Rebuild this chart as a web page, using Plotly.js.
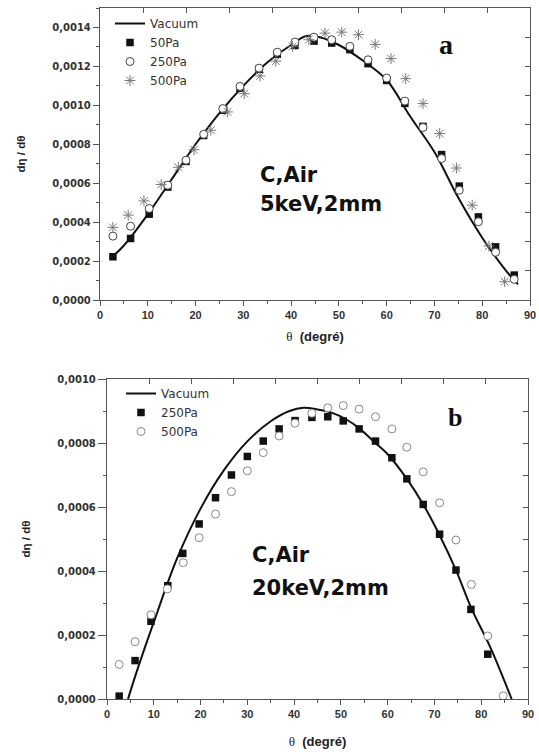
<!DOCTYPE html>
<html>
<head>
<meta charset="utf-8">
<script src="https://cdn.plot.ly/plotly-3.0.1.min.js"></script>
<style>html,body{margin:0;padding:0;background:#fff;}#chart{width:539px;height:754px;}</style>
</head>
<body>
<div id="chart"></div>
<script>
// ---------- Panel a : C, Air, 5 keV, 2 mm ----------
var vacA_x = [2.5, 5, 10, 15, 20, 25, 30, 35, 40, 43, 46, 50, 55, 60, 65, 70, 75, 80, 85, 87.5];
var vacA_y = [0.00022, 0.00028, 0.00044, 0.00062, 0.00080, 0.00096, 0.00110, 0.00122, 0.00131, 0.001355, 0.00135, 0.00131, 0.00123, 0.00113, 0.00094, 0.00076, 0.000525, 0.00032, 0.00015, 0.00008];

var thetaA = [2.7, 6.4, 10.3, 14.2, 18.0, 21.7, 25.7, 29.3, 33.3, 37.1, 40.8, 44.8, 48.5, 52.3, 56.1, 60.0, 63.8, 67.6, 71.5, 75.2, 79.2, 82.8, 86.7];
var a50  = [0.000222, 0.000316, 0.000441, 0.000580, 0.000712, 0.000845, 0.000975, 0.001088, 0.001185, 0.001262, 0.001308, 0.001330, 0.001320, 0.001286, 0.001214, 0.001128, 0.001010, 0.000892, 0.000747, 0.000585, 0.000427, 0.000273, 0.000128];
var a250 = [0.000328, 0.000379, 0.000470, 0.000590, 0.000718, 0.000851, 0.000983, 0.001097, 0.001191, 0.001273, 0.001325, 0.001350, 0.001337, 0.001303, 0.001234, 0.001140, 0.001022, 0.000886, 0.000727, 0.000564, 0.000402, 0.000245, 0.000106];

var thetaA500 = [2.7, 5.9, 9.2, 12.8, 16.4, 19.7, 23.2, 26.7, 30.2, 33.5, 36.8, 40.3, 43.7, 47.1, 50.6, 54.1, 57.6, 60.9, 64.0, 67.6, 71.1, 74.6, 77.9, 81.4, 84.7];
var a500 = [0.000373, 0.000436, 0.000509, 0.000593, 0.000682, 0.000772, 0.000872, 0.000966, 0.001060, 0.001151, 0.001227, 0.001303, 0.001337, 0.001371, 0.001376, 0.001363, 0.001313, 0.001240, 0.001137, 0.001009, 0.000855, 0.000678, 0.000487, 0.000277, 0.000094];

// ---------- Panel b : C, Air, 20 keV, 2 mm ----------
var vacB_x = [4.5, 6, 10, 15, 20, 25, 30, 35, 39, 42, 45, 48, 51, 54, 57, 60, 64, 67.6, 71, 74.6, 78, 82, 86.5];
var vacB_y = [0, 0.00007, 0.00024, 0.00044, 0.000595, 0.000715, 0.000805, 0.000868, 0.0009, 0.00091, 0.000905, 0.000895, 0.000875, 0.000845, 0.000805, 0.000765, 0.00069, 0.000608, 0.000515, 0.000403, 0.00028, 0.00016, 0];

var thetaB250 = [2.6, 6.0, 9.4, 13.0, 16.2, 19.7, 23.2, 26.6, 30.0, 33.4, 36.8, 40.2, 43.8, 47.2, 50.5, 53.9, 57.4, 60.9, 64.1, 67.6, 71.1, 74.6, 77.8, 81.4];
var b250 = [0.000009, 0.000120, 0.000243, 0.000354, 0.000455, 0.000547, 0.000629, 0.000700, 0.000758, 0.000806, 0.000844, 0.000870, 0.000880, 0.000882, 0.000869, 0.000844, 0.000806, 0.000754, 0.000688, 0.000608, 0.000515, 0.000403, 0.000280, 0.000140];

var thetaB500 = [2.6, 6.0, 9.4, 12.9, 16.3, 19.7, 23.2, 26.6, 30.0, 33.4, 36.8, 40.2, 43.8, 47.2, 50.5, 53.9, 57.4, 60.9, 64.1, 67.6, 71.1, 74.6, 77.9, 81.4, 84.7];
var b500 = [0.000108, 0.000179, 0.000263, 0.000344, 0.000426, 0.000504, 0.000578, 0.000648, 0.000713, 0.000770, 0.000822, 0.000862, 0.000893, 0.000910, 0.000917, 0.000906, 0.000882, 0.000844, 0.000787, 0.000710, 0.000613, 0.000497, 0.000358, 0.000197, 0.000010];

var SANS = 'Liberation Sans, Arial, sans-serif';
var WIDE = 'DejaVu Sans, Verdana, sans-serif';
var SERIF = 'Liberation Serif, Times New Roman, serif';
var W = 539, H = 754;

var traces = [
  {x: vacA_x, y: vacA_y, mode: 'lines', name: 'Vacuum', line: {color: '#111', width: 2, shape: 'spline'}, xaxis: 'x', yaxis: 'y', legend: 'legend'},
  {x: thetaA, y: a50, mode: 'markers', name: '50Pa', marker: {symbol: 'square', size: 7.5, color: '#111'}, xaxis: 'x', yaxis: 'y', legend: 'legend'},
  {x: thetaA, y: a250, mode: 'markers', name: '250Pa', marker: {symbol: 'circle', size: 8, color: '#fff', line: {color: '#444', width: 1}}, xaxis: 'x', yaxis: 'y', legend: 'legend'},
  {x: thetaA500, y: a500, mode: 'markers', name: '500Pa', marker: {symbol: 'asterisk-open', size: 9, color: '#777', line: {color: '#777', width: 1}}, xaxis: 'x', yaxis: 'y', legend: 'legend'},
  {x: [], y: [], xaxis: 'x3', yaxis: 'y3', showlegend: false, mode: 'markers'},

  {x: vacB_x, y: vacB_y, mode: 'lines', name: 'Vacuum', line: {color: '#111', width: 2, shape: 'spline'}, xaxis: 'x2', yaxis: 'y2', legend: 'legend2'},
  {x: thetaB250, y: b250, mode: 'markers', name: '250Pa', marker: {symbol: 'square', size: 7.5, color: '#111'}, xaxis: 'x2', yaxis: 'y2', legend: 'legend2'},
  {x: thetaB500, y: b500, mode: 'markers', name: '500Pa', marker: {symbol: 'circle', size: 8, color: '#fff', line: {color: '#888', width: 1}}, xaxis: 'x2', yaxis: 'y2', legend: 'legend2'},
  {x: [], y: [], xaxis: 'x4', yaxis: 'y4', showlegend: false, mode: 'markers'}
];

var lineCol = '#555';
function xMain(dom, anchor, standoff) {
  return {
    domain: dom, anchor: anchor, range: [0, 90], dtick: 10, tick0: 0,
    ticks: 'outside', ticklen: 5, tickwidth: 1, tickcolor: lineCol,
    minor: {dtick: 5, ticks: 'outside', ticklen: 3, tickcolor: lineCol},
    showline: true, linecolor: lineCol, linewidth: 1.2, mirror: true,
    showgrid: false, zeroline: false, fixedrange: true,
    tickfont: {family: SANS, size: 11, color: '#333', weight: 'bold'},
    title: {text: '<span style="font-family:' + SERIF + '">θ</span>  <b>(degré)</b>', font: {family: SANS, size: 13, color: '#222'}, standoff: standoff}
  };
}
function yMain(dom, anchor, top, ticklen) {
  return {
    domain: dom, anchor: anchor, range: [0, top], dtick: 0.0002, tick0: 0, tickformat: '.4f',
    ticks: 'outside', ticklen: ticklen, tickwidth: 1, tickcolor: lineCol,
    minor: {dtick: 0.0001, ticks: 'outside', ticklen: 3, tickcolor: lineCol},
    showline: true, linecolor: lineCol, linewidth: 1.2, mirror: true,
    showgrid: false, zeroline: false, fixedrange: true,
    tickfont: {family: WIDE, size: 10, color: '#333', weight: 'bold'},
    title: {text: 'dη / dθ', font: {family: SANS, size: 11.5, color: '#222', weight: 'bold'}, standoff: 24}
  };
}
function xTop(over, anchor) {
  return {overlaying: over, anchor: anchor, side: 'top', range: [0, 90], dtick: 9, tick0: 0,
    ticks: 'inside', ticklen: 5, tickcolor: lineCol, showticklabels: false, showline: false,
    showgrid: false, zeroline: false, fixedrange: true};
}
function yRight(over, anchor, top, dt) {
  return {overlaying: over, anchor: anchor, side: 'right', range: [0, top], dtick: dt, tick0: 0,
    ticks: 'inside', ticklen: 5, tickcolor: lineCol, showticklabels: false, showline: false,
    showgrid: false, zeroline: false, fixedrange: true};
}

var domXa = [100 / W, 530 / W], domYa = [(H - 300) / H, (H - 8) / H];
var domXb = [107 / W, 528 / W], domYb = [(H - 699) / H, (H - 379) / H];

var legFont = {family: WIDE, size: 12, color: '#333'};
var annFont = {family: WIDE, size: 21, color: '#111', weight: 'bold'};

var layout = {
  width: W, height: H,
  margin: {l: 0, r: 0, t: 0, b: 0},
  paper_bgcolor: '#fff', plot_bgcolor: 'rgba(0,0,0,0)',
  separators: ', ',
  font: {family: SANS, color: '#222'},
  xaxis: xMain(domXa, 'y', 11),
  yaxis: yMain(domYa, 'x', 0.0015, 6),
  xaxis3: xTop('x', 'y3'),
  yaxis3: yRight('y', 'x3', 0.0015, 0.00015),
  xaxis2: xMain(domXb, 'y2', 17),
  yaxis2: yMain(domYb, 'x2', 0.001, 8),
  xaxis4: xTop('x2', 'y4'),
  yaxis4: yRight('y2', 'x4', 0.001, 0.0001),
  legend: {x: 110 / W, y: (H - 9) / H, xanchor: 'left', yanchor: 'top', bgcolor: 'rgba(0,0,0,0)',
    font: legFont, tracegroupgap: 0, itemwidth: 30},
  legend2: {x: 121 / W, y: (H - 379) / H, xanchor: 'left', yanchor: 'top', bgcolor: 'rgba(0,0,0,0)',
    font: legFont, tracegroupgap: 0, itemwidth: 30},
  annotations: [
    {xref: 'x', yref: 'y', x: 33.0, y: 0.00064, xanchor: 'left', yanchor: 'middle', showarrow: false,
      text: 'C,Air', font: annFont},
    {xref: 'x', yref: 'y', x: 33.0, y: 0.000495, xanchor: 'left', yanchor: 'middle', showarrow: false,
      text: '5keV,2mm', font: annFont},
    {xref: 'x', yref: 'y', x: 72.4, y: 0.00131, xanchor: 'center', yanchor: 'middle', showarrow: false,
      text: 'a', font: {family: SERIF, size: 28, color: '#111', weight: 'bold'}},
    {xref: 'x2', yref: 'y2', x: 30.5, y: 0.00045, xanchor: 'left', yanchor: 'middle', showarrow: false,
      text: 'C,Air', font: annFont},
    {xref: 'x2', yref: 'y2', x: 30.5, y: 0.000348, xanchor: 'left', yanchor: 'middle', showarrow: false,
      text: '20keV,2mm', font: annFont},
    {xref: 'x2', yref: 'y2', x: 74.4, y: 0.00088, xanchor: 'center', yanchor: 'middle', showarrow: false,
      text: 'b', font: {family: SERIF, size: 26, color: '#111', weight: 'bold'}}
  ]
};

Plotly.newPlot('chart', traces, layout, {displayModeBar: false, staticPlot: true});
</script>
</body>
</html>
